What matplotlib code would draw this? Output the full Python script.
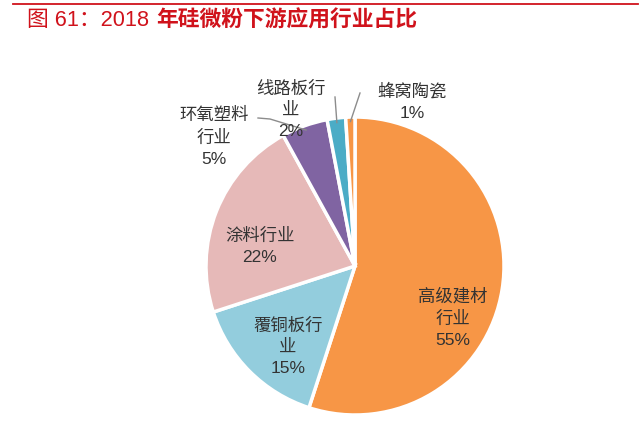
import matplotlib
matplotlib.use("Agg")
import matplotlib.pyplot as plt
import numpy as np

plt.rcParams['font.family'] = ['Liberation Sans', 'Noto Sans CJK SC', 'DejaVu Sans']

# ---- data ----
categories = ['高级建材行业', '覆铜板行业', '涂料行业', '环氧塑料行业', '线路板行业', '蜂窝陶瓷']
values = [55, 15, 22, 5, 2, 1]
label_texts = ['高级建材\n行业\n55%', '覆铜板行\n业\n15%', '涂料行业\n22%',
               '环氧塑料\n行业\n5%', '线路板行\n业\n2%', '蜂窝陶瓷\n1%']
colors = ['#F79646', '#93CDDD', '#E6B9B8', '#8064A2', '#4BACC6', '#F79646']
title_a = '图 61：2018'
title_b = '年硅微粉下游应用行业占比'

W, H = 640, 421
fig = plt.figure(figsize=(6.4, 4.21), dpi=100)
fig.patch.set_facecolor('white')

# pie placement (pixels)
cx, cy, R = 355, 266, 149
L = 1.9  # half-extent of axes in data units
ax = fig.add_axes([(cx - L * R) / W, (H - cy - L * R) / H, 2 * L * R / W, 2 * L * R / H])

wedges, _ = ax.pie(values, colors=colors, startangle=90, counterclock=False, radius=1.0,
                   wedgeprops=dict(edgecolor='white', linewidth=2.5))
ax.set_xlim(-L, L)
ax.set_ylim(-L, L)
ax.axis('off')

def px2d(px, py):
    return ((px - cx) / R, (cy - py) / R)

label_pos = [(453, 318), (288, 347), (260, 246), (214, 137), (291, 110), (412, 102)]
txtcolor = '#333333'
for t, (px, py) in zip(label_texts, label_pos):
    x, y = px2d(px, py)
    ax.text(x, y, t, ha='center', va='center', fontsize=12.5, color=txtcolor,
            linespacing=1.5, clip_on=False)

# leader lines for small slices
def mid_point(w, r=0.97):
    a = np.deg2rad((w.theta1 + w.theta2) / 2)
    return r * np.cos(a), r * np.sin(a)

lc = '#8C8C8C'
# 环氧塑料
ex, ey = mid_point(wedges[3])
p1 = px2d(258, 118); p2 = px2d(270, 119)
ax.plot([p1[0], p2[0], ex], [p1[1], p2[1], ey], color=lc, lw=1.0, clip_on=False)
# 线路板
ex, ey = mid_point(wedges[4])
p1 = px2d(335, 97)
ax.plot([p1[0], ex], [p1[1], ey], color=lc, lw=1.0, clip_on=False)
# 蜂窝陶瓷
ex, ey = mid_point(wedges[5])
p1 = px2d(360, 93)
ax.plot([p1[0], ex], [p1[1], ey], color=lc, lw=1.0, clip_on=False)

# title
red = '#D0121B'
fig.add_artist(plt.Line2D([13 / W, 638 / W], [1 - 3.5 / H, 1 - 3.5 / H], color=red, lw=1.3))
t1 = fig.text(27 / W, 1 - 21 / H, title_a, fontsize=15.7, color=red, va='center', ha='left')
fig.add_artist(plt.matplotlib.text.Annotation(title_b, xy=(1, 0.5), xycoords=t1,
               xytext=(5, 0), textcoords='offset points', va='center', ha='left',
               fontsize=15.7, color=red, fontweight='bold', annotation_clip=False))

fig.savefig('out.png', dpi=100, facecolor='white')
